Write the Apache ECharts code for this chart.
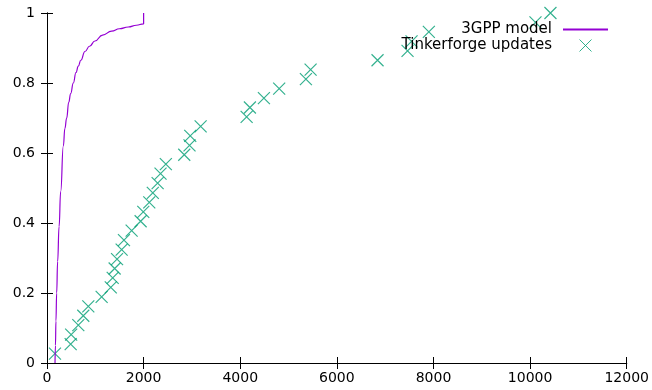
<!DOCTYPE html>
<html>
<head>
<meta charset="utf-8">
<script src="https://cdn.jsdelivr.net/npm/echarts@6/dist/echarts.min.js"></script>
<style>
  html, body { margin: 0; padding: 0; background: #fff; }
  #chart { width: 652px; height: 390px; }
</style>
</head>
<body>
<div id="chart"></div>
<script>
// 3GPP model curve
const modelX = [166, 175, 185, 200, 220, 250, 283, 338, 370, 407, 450, 490, 545, 600, 648, 700, 786, 880, 993, 1150, 1338, 1500, 1683, 1850, 2000, 2000];
const modelY = [0, 0.05, 0.12, 0.2, 0.29, 0.39, 0.49, 0.62, 0.67, 0.70, 0.745, 0.77, 0.80, 0.83, 0.848, 0.865, 0.89, 0.905, 0.92, 0.937, 0.948, 0.955, 0.96, 0.965, 0.969, 1.0];

// Tinkerforge update intervals (empirical CDF)
const updateX = [165, 490, 500, 648, 751, 855, 1131, 1320, 1360, 1400, 1450, 1545, 1593, 1752, 1938, 1993, 2117,
  2190, 2290, 2350, 2460, 2841, 2950, 2965, 3180, 4132, 4200, 4490, 4806, 5359, 5456, 6842, 7463, 7546, 7904, 10111, 10421];
const updateY = [0.027, 0.054, 0.081, 0.108, 0.135, 0.162, 0.189, 0.216, 0.243, 0.270, 0.297, 0.324, 0.351, 0.378,
  0.405, 0.432, 0.459, 0.486, 0.514, 0.541, 0.568, 0.595, 0.622, 0.649, 0.676, 0.703, 0.730, 0.757, 0.784, 0.811,
  0.838, 0.865, 0.892, 0.919, 0.946, 0.973, 1.0];

const FONT = 'DejaVu Sans';
const CROSS = 'path://M0,0L10,10M10,0L0,10';
const PURPLE = '#9400D3';
const GREEN = '#009E73';

const chart = echarts.init(document.getElementById('chart'), null, { renderer: 'canvas' });

const axisCommon = {
  type: 'value',
  axisLine: { show: true, lineStyle: { color: '#000', width: 1 } },
  axisTick: { show: true, inside: true, length: 6, lineStyle: { color: '#000' } },
  splitLine: { show: false },
};

chart.setOption({
  animation: false,
  textStyle: { fontFamily: FONT },
  grid: { left: 47, right: 25, top: 13, bottom: 27 },
  legend: {
    orient: 'vertical',
    right: 38,
    top: 17,
    align: 'right',
    itemGap: 1,
    itemWidth: 45,
    itemHeight: 12,
    textStyle: { fontFamily: FONT, fontSize: 15, color: '#000', padding: [0, 6, 0, 0] },
    data: [
      { name: '3GPP model', itemStyle: { opacity: 0 } },
      { name: 'Tinkerforge updates', itemStyle: { borderWidth: 1 } },
    ],
  },
  xAxis: [
    Object.assign({}, axisCommon, {
      min: 0, max: 12000, interval: 2000,
      axisLabel: { fontFamily: FONT, fontSize: 14, color: '#000', margin: 8, formatter: v => String(v) },
    }),
    Object.assign({}, axisCommon, {
      position: 'top', min: 0, max: 12000, interval: 2000,
      axisLabel: { show: false },
    }),
  ],
  yAxis: [
    Object.assign({}, axisCommon, {
      min: 0, max: 1, interval: 0.2,
      axisLabel: { fontFamily: FONT, fontSize: 14, color: '#000', margin: 12, formatter: v => String(+v.toFixed(1)) },
    }),
    Object.assign({}, axisCommon, {
      position: 'right', min: 0, max: 1, interval: 0.2,
      axisLabel: { show: false },
    }),
  ],
  series: [
    {
      name: '3GPP model',
      type: 'line',
      data: modelX.map((x, i) => [x, modelY[i]]),
      smooth: 0.5,
      smoothMonotone: 'x',
      symbol: 'none',
      lineStyle: { color: PURPLE, width: 1.2 },
      itemStyle: { color: PURPLE },
    },
    {
      name: 'Tinkerforge updates',
      type: 'scatter',
      data: updateX.map((x, i) => [x, updateY[i]]),
      symbol: CROSS,
      symbolSize: 12,
      clip: false,
      itemStyle: { color: 'rgba(0,0,0,0)', borderColor: GREEN, borderWidth: 1.2 },
    },
  ],
});
</script>
</body>
</html>
